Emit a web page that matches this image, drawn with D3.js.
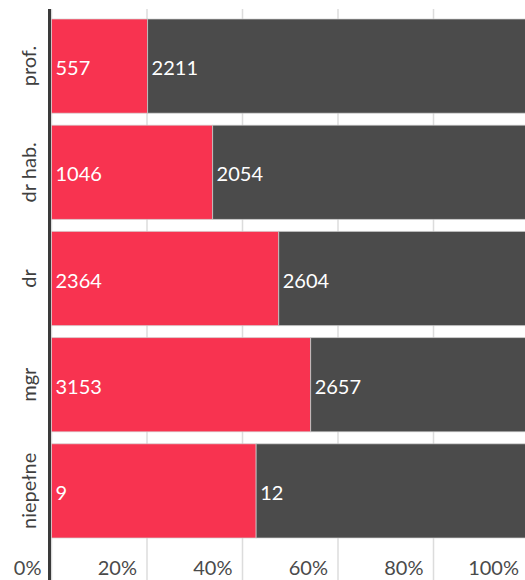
<!DOCTYPE html>
<html>
<head>
<meta charset="utf-8">
<script src="https://cdn.jsdelivr.net/npm/d3@7/dist/d3.min.js"></script>
<style>
  html, body { margin: 0; padding: 0; background: #fff; overflow: hidden; }
  svg { display: block; }
  text { font-family: Lato, "Open Sans", sans-serif; }
</style>
</head>
<body>
<svg id="chart" width="525" height="580"></svg>
<script>
// Academic degree groups, counts per group (first and second part of each bar)
const categories = ["prof.", "dr hab.", "dr", "mgr", "niepełne"];
const kobiety = [557, 1046, 2364, 3153, 9];
const mezczyzni = [2211, 2054, 2604, 2657, 12];
const tickValues = [0, 0.2, 0.4, 0.6, 0.8, 1];
const tickLabels = ["0%", "20%", "40%", "60%", "80%", "100%"];

const colors = { kobiety: "#f83350", mezczyzni: "#4b4b4b" };

const svg = d3.select("#chart");
const W = 525, H = 580;

const x = d3.scaleLinear().domain([0, 1]).range([51.5, 529]);
const y = d3.scaleBand().domain(categories).range([13, 544])
  .paddingInner(0.113).paddingOuter(0.0565);

const rows = categories.map((c, i) => {
  const total = kobiety[i] + mezczyzni[i];
  return { cat: c, a: kobiety[i], b: mezczyzni[i], pa: kobiety[i] / total };
});

// vertical gridlines
svg.append("g").selectAll("line").data(tickValues).join("line")
  .attr("x1", d => x(d)).attr("x2", d => x(d))
  .attr("y1", 9).attr("y2", H)
  .attr("stroke", "#dcdcdc").attr("stroke-width", 1.5);

// tick labels, set just left of each gridline
svg.append("g").selectAll("text").data(tickValues).join("text")
  .attr("x", d => x(d) - 10).attr("y", 575)
  .attr("text-anchor", "end")
  .attr("font-size", 20)
  .attr("fill", "#4a4a4a")
  .text((d, i) => tickLabels[i]);

const bars = svg.append("g").selectAll("g").data(rows).join("g");

bars.append("rect")
  .attr("x", x(0)).attr("y", d => y(d.cat))
  .attr("width", d => x(d.pa) - x(0)).attr("height", y.bandwidth())
  .attr("fill", colors.kobiety)
  .attr("stroke", "rgba(210,210,210,0.7)").attr("stroke-width", 1);

bars.append("rect")
  .attr("x", d => x(d.pa)).attr("y", d => y(d.cat))
  .attr("width", d => x(1) - x(d.pa)).attr("height", y.bandwidth())
  .attr("fill", colors.mezczyzni)
  .attr("stroke", "rgba(210,210,210,0.7)").attr("stroke-width", 1);

// value labels
bars.append("text")
  .attr("x", x(0) + 4).attr("y", d => y(d.cat) + y.bandwidth() / 2)
  .attr("dy", "0.45em").attr("font-size", 20).attr("fill", "#fff")
  .text(d => d.a);

bars.append("text")
  .attr("x", d => x(d.pa) + 4).attr("y", d => y(d.cat) + y.bandwidth() / 2)
  .attr("dy", "0.45em").attr("font-size", 20).attr("fill", "#fff")
  .text(d => d.b);

// category labels, rotated
svg.append("g").selectAll("text").data(categories).join("text")
  .attr("transform", d => `translate(36,${y(d) + y.bandwidth() / 2}) rotate(-90)`)
  .attr("text-anchor", "middle")
  .attr("font-size", 20)
  .attr("fill", "#3f3f3f")
  .text(d => d);

// left axis line
svg.append("line")
  .attr("x1", 49.5).attr("x2", 49.5).attr("y1", 9).attr("y2", H)
  .attr("stroke", "#3a3a3a").attr("stroke-width", 3);
</script>
</body>
</html>
